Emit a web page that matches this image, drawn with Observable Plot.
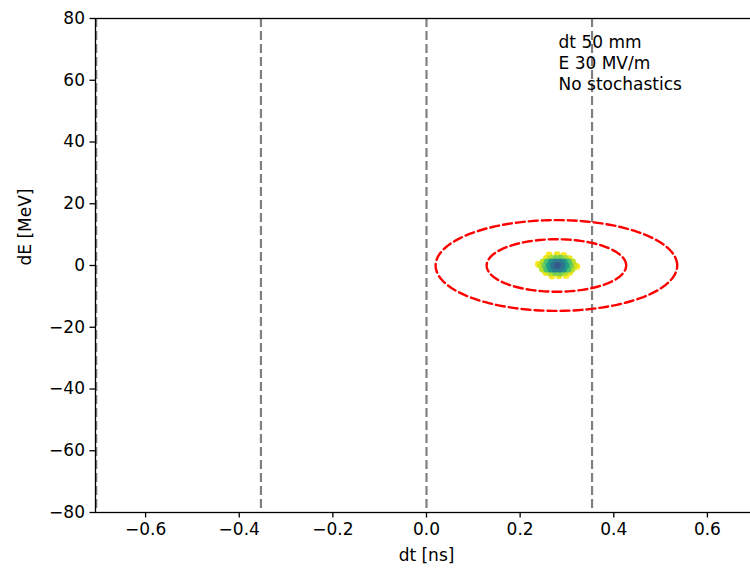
<!DOCTYPE html>
<html>
<head>
<meta charset="utf-8">
<script src="https://cdn.jsdelivr.net/npm/d3@7"></script>
<script src="https://cdn.jsdelivr.net/npm/@observablehq/plot@0.6"></script>
<style>
  body { margin: 0; background: #fff; }
  #chart { width: 750px; height: 570px; overflow: hidden; }
  #chart svg { font-family: "DejaVu Sans", sans-serif; max-width: none !important; }
</style>
</head>
<body>
<div id="chart"></div>
<script>
// Axis ticks
const xTicks = [-0.6, -0.4, -0.2, 0.0, 0.2, 0.4, 0.6];
const yTicks = [-80, -60, -40, -20, 0, 20, 40, 60, 80];

// RF bucket boundaries (dashed grey lines)
const bucketEdges = [-0.7055, -0.3536, 0.0, 0.3536];

// Acceptance ellipses: centre and half-widths
const ellipseCenterDt = 0.2775;
const ellipseCenterDE = 0.0;
const ellipseHalfDt = [0.149, 0.258];
const ellipseHalfDE = [8.5, 14.7];

// Beam macro-particles: dt [ns], dE [MeV], colour level (low = dense core)
const beamDt = [
  0.244, 0.253, 0.262, 0.271, 0.280, 0.289, 0.298, 0.307, 0.316,
  0.249, 0.258, 0.267, 0.276, 0.285, 0.294, 0.303, 0.312,
  0.248, 0.257, 0.266, 0.275, 0.284, 0.293, 0.302, 0.311,
  0.256, 0.266, 0.276, 0.286, 0.296, 0.305,
  0.255, 0.265, 0.275, 0.285, 0.295, 0.306,
  0.262, 0.279, 0.293,
  0.268, 0.283, 0.298,
  0.239, 0.321
];
const beamDE = [
  0, 0, 0, 0, 0, 0, 0, 0, 0,
  1.2, 1.2, 1.2, 1.2, 1.2, 1.2, 1.2, 1.2,
  -1.2, -1.2, -1.2, -1.2, -1.2, -1.2, -1.2, -1.2,
  2.3, 2.4, 2.3, 2.4, 2.3, 2.2,
  -2.3, -2.4, -2.3, -2.4, -2.3, -2.2,
  3.4, 3.5, 3.3,
  -3.4, -3.3, -3.2,
  0.4, -0.3
];
const beamLevel = [
  0.93, 0.78, 0.58, 0.38, 0.28, 0.38, 0.58, 0.78, 0.93,
  0.9, 0.72, 0.52, 0.42, 0.42, 0.52, 0.72, 0.9,
  0.9, 0.72, 0.52, 0.42, 0.42, 0.52, 0.72, 0.9,
  0.97, 0.88, 0.8, 0.8, 0.88, 0.97,
  0.97, 0.88, 0.8, 0.8, 0.88, 0.97,
  1.0, 0.98, 1.0,
  1.0, 0.98, 1.0,
  1.0, 1.0
];

// Annotation
const noteLines = ["dt 50 mm", "E 30 MV/m", "No stochastics"];
const noteDt = 0.282;
const noteDE = 75.2;

const beam = beamDt.map((dt, i) => ({dt, dE: beamDE[i], level: beamLevel[i]}))
  .sort((a, b) => b.level - a.level);

const ellipses = [];
ellipseHalfDt.forEach((a, k) => {
  for (let deg = 0; deg <= 360; deg += 2) {
    const t = deg * Math.PI / 180;
    ellipses.push({
      ring: k,
      dt: ellipseCenterDt + a * Math.cos(t),
      dE: ellipseCenterDE + ellipseHalfDE[k] * Math.sin(t)
    });
  }
});

const fmtX = d3.format(".1f");
const fmtY = d3.format("d");
const dash = "9,4";

const chart = Plot.plot({
  width: 770,
  height: 570,
  marginLeft: 95,
  marginRight: 13,
  marginTop: 18,
  marginBottom: 58,
  style: {fontFamily: "DejaVu Sans, sans-serif", fontSize: "17px", color: "#000", background: "#fff", maxWidth: "none"},
  x: {domain: [-0.707, 0.707]},
  y: {domain: [-80, 80]},
  color: {type: "linear", scheme: "viridis", domain: [0, 1]},
  marks: [
    Plot.ruleX(bucketEdges, {stroke: "#808080", strokeWidth: 2.2, strokeDasharray: dash}),
    Plot.line(ellipses, {x: "dt", y: "dE", z: "ring", stroke: "#ff0000", strokeWidth: 2.4, strokeDasharray: dash}),
    Plot.dot(beam, {x: "dt", y: "dE", r: 3.4, fill: "level", stroke: "none"}),
    Plot.text([noteLines.join("\n")], {
      x: noteDt, y: noteDE, text: d => d, textAnchor: "start", lineAnchor: "top",
      lineHeight: 1.24, fontSize: 17, fill: "#000"
    }),
    Plot.frame({stroke: "#000", strokeWidth: 1.3}),
    Plot.axisX(xTicks, {tickSize: 5.5, tickPadding: 5, tickFormat: fmtX, label: null, strokeWidth: 1.3}),
    Plot.axisY(yTicks, {tickSize: 5.5, tickPadding: 5, tickFormat: fmtY, label: null, strokeWidth: 1.3}),
    Plot.text(["dt [ns]"], {frameAnchor: "bottom", dy: 48, fontSize: 17, fill: "#000"}),
    Plot.text(["dE [MeV]"], {frameAnchor: "left", dx: -70, rotate: -90, fontSize: 17, fill: "#000"})
  ]
});

document.getElementById("chart").appendChild(chart);
</script>
</body>
</html>
